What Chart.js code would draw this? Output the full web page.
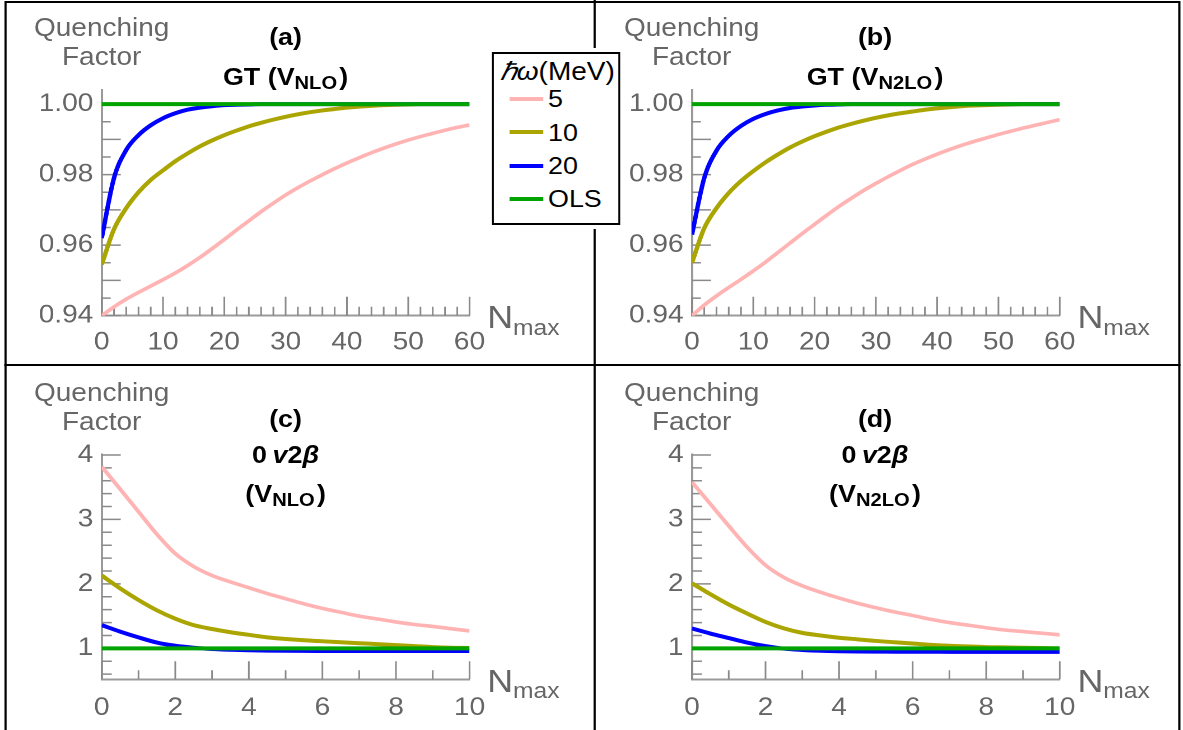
<!DOCTYPE html>
<html>
<head>
<meta charset="utf-8">
<script src="https://cdn.jsdelivr.net/npm/chart.js@4.4.1/dist/chart.umd.min.js"></script>
<style>
  html, body { margin: 0; padding: 0; background: #fff; overflow: hidden; }
  #page {
    position: relative; width: 1056.25px; height: 730px;
    transform: scaleX(1.12); transform-origin: 0 0;
    font-family: "Liberation Sans", Arial, sans-serif;
  }
  .frame { position: absolute; left: 3.6px; top: 1px; width: 1050.9px; height: 800px; border: 2px solid #000; box-sizing: border-box; }
  .hline { position: absolute; left: 3.6px; top: 364px; width: 1050.9px; height: 2px; background: #000; }
  .vline { position: absolute; left: 530px; top: 0; width: 1.8px; height: 730px; background: #000; }
  .panel { position: absolute; width: 530px; height: 365px; }
  .txt { position: absolute; line-height: 1; white-space: nowrap; }
  .sub { font-size: 0.75em; position: relative; top: 0.25em; }
  #legend {
    position: absolute; left: 439px; top: 51.7px; width: 115.2px; height: 173.3px;
    border: 2px solid #000; box-sizing: border-box; background: #fff;
    outline: 4px solid #fff; z-index: 5;
  }
</style>
</head>
<body>
<div id="page">
  <div class="frame"></div>
  <div class="hline"></div>
  <div class="vline"></div>
  <div class="panel" style="left:0;top:0"><canvas id="chart_a"></canvas></div>
  <div class="panel" style="left:526.8px;top:0"><canvas id="chart_b"></canvas></div>
  <div class="panel" style="left:0;top:365px"><canvas id="chart_c"></canvas></div>
  <div class="panel" style="left:526.8px;top:365px"><canvas id="chart_d"></canvas></div>
  <div id="legend"></div>
</div>
<script>
// ---- data ----
const NMAX_GT = [0, 2, 4, 6, 8, 10, 12, 14, 16, 18, 20, 22, 24, 26, 28, 30,
  32, 34, 36, 38, 40, 42, 44, 46, 48, 50, 52, 54, 56, 58, 60];
const NMAX_0NBB = [0, 0.5, 1, 1.5, 2, 2.5, 3, 3.5, 4, 4.5, 5,
  5.5, 6, 6.5, 7, 7.5, 8, 8.5, 9, 9.5, 10];

const HW_LABELS = ["5", "10", "20", "OLS"];

// (a) GT, V_NLO
const GT_NLO_5 = [0.9400, 0.9425, 0.9447, 0.9466, 0.9484, 0.9502, 0.9521, 0.9542, 0.9565, 0.9590, 0.9616,
  0.9643, 0.9669, 0.9695, 0.9719, 0.9742, 0.9763, 0.9782, 0.9800, 0.9817, 0.9833,
  0.9848, 0.9862, 0.9875, 0.9887, 0.9898, 0.9908, 0.9917, 0.9926, 0.9934, 0.9941];
const GT_NLO_10 = [0.9545, 0.9645, 0.9705, 0.9750, 0.9785, 0.9812, 0.9838, 0.9860, 0.9880, 0.9897, 0.9912,
  0.9925, 0.9937, 0.9947, 0.9956, 0.9964, 0.9971, 0.9977, 0.9982, 0.9986, 0.9990,
  0.9993, 0.9995, 0.9997, 0.9998, 0.9999, 1.0000, 1.0000, 1.0000, 1.0000, 1.0000];
const GT_NLO_20 = [0.9620, 0.9790, 0.9870, 0.9912, 0.9940, 0.9960, 0.9974, 0.9984, 0.9990, 0.9994, 0.9997,
  0.9998, 0.9999, 1.0000, 1.0000, 1.0000, 1.0000, 1.0000, 1.0000, 1.0000, 1.0000,
  1.0000, 1.0000, 1.0000, 1.0000, 1.0000, 1.0000, 1.0000, 1.0000, 1.0000, 1.0000];
const GT_NLO_OLS = [1.00, 1.00, 1.00, 1.00, 1.00, 1.00, 1.00, 1.00, 1.00, 1.00, 1.00,
  1.00, 1.00, 1.00, 1.00, 1.00, 1.00, 1.00, 1.00, 1.00, 1.00,
  1.00, 1.00, 1.00, 1.00, 1.00, 1.00, 1.00, 1.00, 1.00, 1.00];

// (b) GT, V_N2LO
const GT_N2LO_5 = [0.9400, 0.9430, 0.9456, 0.9480, 0.9503, 0.9527, 0.9552, 0.9579, 0.9606, 0.9633, 0.9659,
  0.9685, 0.9710, 0.9733, 0.9755, 0.9775, 0.9794, 0.9812, 0.9829, 0.9844, 0.9858,
  0.9871, 0.9883, 0.9894, 0.9904, 0.9914, 0.9923, 0.9932, 0.9940, 0.9948, 0.9956];
const GT_N2LO_10 = [0.9550, 0.9648, 0.9705, 0.9748, 0.9782, 0.9810, 0.9835, 0.9857, 0.9877, 0.9894, 0.9909,
  0.9922, 0.9934, 0.9944, 0.9953, 0.9961, 0.9968, 0.9974, 0.9979, 0.9984, 0.9988,
  0.9991, 0.9994, 0.9996, 0.9997, 0.9998, 0.9999, 1.0000, 1.0000, 1.0000, 1.0000];
const GT_N2LO_20 = [0.9630, 0.9790, 0.9868, 0.9910, 0.9938, 0.9958, 0.9972, 0.9982, 0.9989, 0.9993, 0.9996,
  0.9998, 0.9999, 1.0000, 1.0000, 1.0000, 1.0000, 1.0000, 1.0000, 1.0000, 1.0000,
  1.0000, 1.0000, 1.0000, 1.0000, 1.0000, 1.0000, 1.0000, 1.0000, 1.0000, 1.0000];
const GT_N2LO_OLS = [1.00, 1.00, 1.00, 1.00, 1.00, 1.00, 1.00, 1.00, 1.00, 1.00, 1.00,
  1.00, 1.00, 1.00, 1.00, 1.00, 1.00, 1.00, 1.00, 1.00, 1.00,
  1.00, 1.00, 1.00, 1.00, 1.00, 1.00, 1.00, 1.00, 1.00, 1.00];

// (c) 0v2b, V_NLO
const NBB_NLO_5 = [3.82, 3.47, 3.12, 2.77, 2.47, 2.27, 2.13, 2.03, 1.94, 1.85, 1.77,
  1.69, 1.62, 1.56, 1.50, 1.455, 1.41, 1.37, 1.34, 1.305, 1.27];
const NBB_NLO_10 = [2.13, 1.93, 1.75, 1.59, 1.46, 1.36, 1.30, 1.25, 1.21, 1.17, 1.145,
  1.125, 1.11, 1.095, 1.08, 1.065, 1.05, 1.035, 1.02, 1.01, 1.005];
const NBB_NLO_20 = [1.36, 1.26, 1.17, 1.09, 1.04, 1.01, 0.99, 0.978, 0.970, 0.965, 0.962,
  0.960, 0.959, 0.958, 0.958, 0.958, 0.958, 0.958, 0.958, 0.958, 0.958];
const NBB_NLO_OLS = [1, 1, 1, 1, 1, 1, 1, 1, 1, 1, 1,
  1, 1, 1, 1, 1, 1, 1, 1, 1, 1];

// (d) 0v2b, V_N2LO
const NBB_N2LO_5 = [3.58, 3.24, 2.90, 2.57, 2.29, 2.10, 1.97, 1.87, 1.78, 1.70, 1.63,
  1.565, 1.51, 1.45, 1.40, 1.36, 1.32, 1.285, 1.26, 1.235, 1.21];
const NBB_N2LO_10 = [2.01, 1.84, 1.68, 1.54, 1.41, 1.31, 1.24, 1.20, 1.165, 1.14, 1.115,
  1.095, 1.075, 1.055, 1.04, 1.03, 1.02, 1.015, 1.01, 1.005, 1.00];
const NBB_N2LO_20 = [1.31, 1.23, 1.16, 1.09, 1.035, 0.995, 0.975, 0.962, 0.955, 0.951, 0.949,
  0.948, 0.947, 0.947, 0.946, 0.946, 0.946, 0.946, 0.946, 0.946, 0.946];
const NBB_N2LO_OLS = [1, 1, 1, 1, 1, 1, 1, 1, 1, 1, 1,
  1, 1, 1, 1, 1, 1, 1, 1, 1, 1];

// tick labels
const TOP_X_LABELS = [0, 10, 20, 30, 40, 50, 60];
const TOP_Y_LABELS = [0.94, 0.96, 0.98, 1.00];
const BOT_X_LABELS = [0, 2, 4, 6, 8, 10];
const BOT_Y_LABELS = [1, 2, 3, 4];

// ---- style ----
const COLORS = ["#ffb3b3", "#aaa500", "#0000ff", "#00a300"];
const WIDTHS = [3.6, 4, 4, 4];
const FONT = '"Liberation Sans", Arial, sans-serif';
const AXIS_GRAY = "#9a9a9a";
const TEXT_GRAY = "#666666";

function stepTicks(min, max, step) {
  const out = [];
  for (let v = min; v <= max + step / 1000; v += step) out.push(Math.round(v * 10000) / 10000);
  return out;
}

function hasLabel(list, v) {
  return list.some(l => Math.abs(l - v) < 1e-9);
}

// Mathematica style ticks that point into the plot
const inwardTicks = {
  id: "inwardTicks",
  beforeDatasetsDraw(chart, args, o) {
    const { ctx, chartArea: a, scales } = chart;
    const isMajor = (v, step) => Math.abs(v / step - Math.round(v / step)) < 1e-6;
    ctx.save();
    ctx.strokeStyle = o.color;
    ctx.lineWidth = o.width;
    ctx.beginPath();
    scales.x.ticks.forEach(t => {
      const px = scales.x.getPixelForValue(t.value);
      const len = isMajor(t.value, o.xMajor) ? o.xLong : o.xShort;
      ctx.moveTo(px, a.bottom);
      ctx.lineTo(px, a.bottom - len);
    });
    scales.y.ticks.forEach(t => {
      const py = scales.y.getPixelForValue(t.value);
      const len = isMajor(t.value, o.yMajor) ? o.yLong : o.yShort;
      ctx.moveTo(a.left, py);
      ctx.lineTo(a.left + len, py);
    });
    ctx.stroke();
    ctx.restore();
  }
};

function makePanel(canvasId, p) {
  const datasets = p.series.map((vals, i) => ({
    label: HW_LABELS[i],
    data: p.nmax.map((n, k) => ({ x: n, y: vals[k] })),
    borderColor: COLORS[i],
    backgroundColor: COLORS[i],
    borderWidth: WIDTHS[i],
    pointRadius: 0,
    cubicInterpolationMode: "monotone",
    order: 4 - i,
  }));
  const tickFont = { family: FONT, size: 25 };
  return new Chart(document.getElementById(canvasId), {
    type: "line",
    data: { datasets },
    options: {
      animation: false,
      responsive: true,
      maintainAspectRatio: false,
      devicePixelRatio: 2,
      layout: { padding: { left: 0, top: p.padTop, right: 110.8, bottom: p.padBottom } },
      plugins: {
        legend: { display: false },
        tooltip: { enabled: false },
        inwardTicks: {
          color: "#8a8a8a", width: 1.5,
          xMajor: p.xMajor, xLong: p.xLong, xShort: 9,
          yMajor: p.yMajor, yLong: 17, yShort: p.yShort,
        },
      },
      scales: {
        x: {
          type: "linear",
          min: p.xMin, max: p.xMax,
          afterBuildTicks: s => { s.ticks = p.xTicks.map(v => ({ value: v })); },
          afterFit: s => { s.height = p.xHeight; },
          grid: { display: false, drawTicks: false },
          border: { display: true, color: AXIS_GRAY, width: 2 },
          ticks: {
            autoSkip: false, maxRotation: 0, minRotation: 0,
            padding: p.xPad, font: tickFont, color: TEXT_GRAY,
            callback: v => hasLabel(p.xLabels, v) ? String(v) : "",
          },
        },
        y: {
          type: "linear",
          min: p.yMin, max: p.yMax,
          afterBuildTicks: s => { s.ticks = p.yTicks.map(v => ({ value: v })); },
          afterFit: s => { s.width = 90.8; },
          grid: { display: false, drawTicks: false },
          border: { display: true, color: AXIS_GRAY, width: 2 },
          ticks: {
            autoSkip: false, padding: 7.5, font: tickFont, color: TEXT_GRAY,
            callback: v => hasLabel(p.yLabels, v) ? p.yFmt(v) : "",
          },
        },
      },
    },
    plugins: [inwardTicks],
  });
}

const TOP = {
  nmax: NMAX_GT, xMin: 0, xMax: 60, yMin: 0.94, yMax: 1.004,
  xTicks: stepTicks(0, 60, 2), yTicks: stepTicks(0.94, 1.0, 0.005),
  xLabels: TOP_X_LABELS, yLabels: TOP_Y_LABELS, yFmt: v => v.toFixed(2),
  xMajor: 10, xLong: 19, yMajor: 0.01, yShort: 8,
  padTop: 90, padBottom: 4.3, xHeight: 45, xPad: 12,
};
const BOT = {
  nmax: NMAX_0NBB, xMin: 0, xMax: 10, yMin: 0.52, yMax: 4.01,
  xTicks: stepTicks(0, 10, 1), yTicks: stepTicks(0.6, 4.0, 0.2),
  xLabels: BOT_X_LABELS, yLabels: BOT_Y_LABELS, yFmt: v => String(v),
  xMajor: 2, xLong: 18, yMajor: 1, yShort: 9,
  padTop: 89.3, padBottom: 0.7, xHeight: 50, xPad: 14,
};

makePanel("chart_a", { ...TOP, series: [GT_NLO_5, GT_NLO_10, GT_NLO_20, GT_NLO_OLS] });
makePanel("chart_b", { ...TOP, series: [GT_N2LO_5, GT_N2LO_10, GT_N2LO_20, GT_N2LO_OLS] });
makePanel("chart_c", { ...BOT, series: [NBB_NLO_5, NBB_NLO_10, NBB_NLO_20, NBB_NLO_OLS] });
makePanel("chart_d", { ...BOT, series: [NBB_N2LO_5, NBB_N2LO_10, NBB_N2LO_20, NBB_N2LO_OLS] });

// ---- text overlays ----
const page = document.getElementById("page");

function putText(html, x, baseline, size, opts) {
  const d = document.createElement("div");
  d.className = "txt";
  const top = baseline - 0.8465 * size;
  if (opts.align === "left") {
    d.style.left = x + "px";
  } else {
    d.style.left = (x - 200) + "px";
    d.style.width = "400px";
    d.style.textAlign = "center";
  }
  d.style.top = top + "px";
  d.style.fontSize = size + "px";
  d.style.color = opts.color || "#000";
  if (opts.bold) d.style.fontWeight = "bold";
  d.innerHTML = html;
  page.appendChild(d);
}

[[90.8, 0], [617.6, 0], [90.8, 365], [617.6, 365]].forEach(([cx, dy]) => {
  putText("Quenching", cx, 36 + dy, 25, { color: TEXT_GRAY });
  putText("Factor", cx, 65 + dy, 25, { color: TEXT_GRAY });
});

[[435, 0], [962, 0], [435, 363.6], [962, 363.6]].forEach(([lx, dy]) => {
  putText('N<span style="font-size:22px;position:relative;top:6.7px">max</span>', lx, 328.3 + dy, 32,
    { align: "left", color: TEXT_GRAY });
});

putText("(a)", 255, 45, 24, { bold: true });
putText('GT (V<span class="sub">NLO</span>&#8202;)', 255, 85, 24, { bold: true });
putText("(b)", 781.3, 45, 24, { bold: true });
putText('GT (V<span class="sub">N2LO</span>&#8202;)', 781.3, 85, 24, { bold: true });

putText("(c)", 255, 427, 24, { bold: true });
putText("0&#8201;<i>v</i>2<i>β</i>", 255, 463, 24, { bold: true });
putText('(V<span class="sub">NLO</span>&#8202;)', 255, 502, 24, { bold: true });
putText("(d)", 781.3, 427, 24, { bold: true });
putText("0&#8201;<i>v</i>2<i>β</i>", 781.3, 463, 24, { bold: true });
putText('(V<span class="sub">N2LO</span>&#8202;)', 781.3, 502, 24, { bold: true });

function buildLegend() {
  const el = document.getElementById("legend");
  const head = document.createElement("div");
  head.className = "txt";
  head.style.left = "5.4px";
  head.style.top = (26.3 - 0.8465 * 25) + "px";
  head.style.fontSize = "25px";
  head.innerHTML = "<i>ℏω</i>(MeV)";
  el.appendChild(head);
  HW_LABELS.forEach((lab, i) => {
    const cy = 45.3 + i * 33.35;
    const sw = document.createElement("span");
    sw.style.cssText = `position:absolute;left:13.5px;top:${cy - 2}px;width:30.3px;height:4px;background:${COLORS[i]}`;
    const tx = document.createElement("span");
    tx.className = "txt";
    tx.style.left = "48.3px";
    tx.style.top = (cy + 8.6 - 0.8465 * 24) + "px";
    tx.style.fontSize = "24px";
    tx.textContent = lab;
    el.appendChild(sw);
    el.appendChild(tx);
  });
}
buildLegend();
</script>
</body>
</html>
